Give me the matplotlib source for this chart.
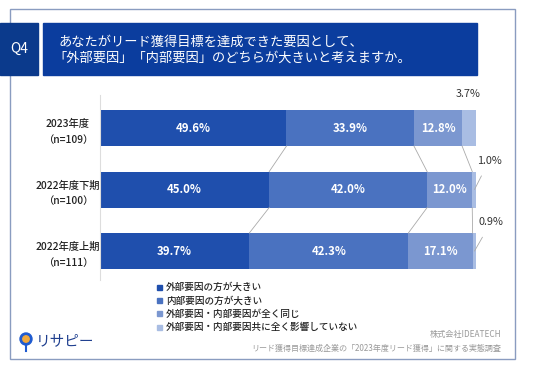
import matplotlib.pyplot as plt
from matplotlib.patches import Rectangle, Circle
import numpy as np

plt.rcParams['font.family'] = ['Noto Sans CJK JP', 'DejaVu Sans']

# データ
categories = ['2023年度\n（n=109）', '2022年度下期\n（n=100）', '2022年度上期\n（n=111）']
series_names = ['外部要因の方が大きい', '内部要因の方が大きい',
                '外部要因・内部要因が全く同じ', '外部要因・内部要因共に全く影響していない']
values = [
    [49.6, 45.0, 39.7],
    [33.9, 42.0, 42.3],
    [12.8, 12.0, 17.1],
    [3.7, 1.0, 0.9],
]
colors = ['#1f4fad', '#4a72c0', '#7b97d0', '#a9bde3']

W, H = 536, 371
fig = plt.figure(figsize=(W / 100, H / 100), dpi=100)

# 枠・タイトル部分
bg = fig.add_axes([0, 0, 1, 1])
bg.set_xlim(0, W)
bg.set_ylim(H, 0)
bg.axis('off')
bg.add_patch(Rectangle((10, 9), 505, 350, fill=False, edgecolor='#8a9cc0', lw=1))
bg.add_patch(Rectangle((0, 23), 38, 52, color='#0b3a8c'))
bg.add_patch(Rectangle((43, 23), 434, 52, color='#0b3d9e'))
bg.text(19, 49, 'Q4', color='white', fontsize=10, ha='center', va='center')
bg.text(58, 42, 'あなたがリード獲得目標を達成できた要因として、', color='white',
        fontsize=9.5, va='center')
bg.text(53, 58, '「外部要因」「内部要因」のどちらが大きいと考えますか。', color='white',
        fontsize=9.5, va='center')

# フッター
bg.text(501, 335, '株式会社IDEATECH', color='#999999', fontsize=5.9, ha='right', va='center')
bg.text(501, 348, 'リード獲得目標達成企業の「2023年度リード獲得」に関する実態調査',
        color='#999999', fontsize=5.8, ha='right', va='center')
bg.add_patch(Circle((26, 339), 6, color='#1f5bd0'))
bg.add_patch(Circle((26, 339), 3.2, color='#f2a93b'))
bg.plot([26, 26], [345, 351], color='#1f5bd0', lw=1.5)
bg.text(36, 341, 'リサピー', color='#1f3f8f', fontsize=10.5, va='center')

# 凡例
for k, name in enumerate(series_names):
    y = 287 + k * 13.4
    bg.add_patch(Rectangle((157, y - 2.5), 5, 5, color=colors[k]))
    bg.text(166, y, name, fontsize=6.9, va='center', color='#222222', fontweight='medium')

# 棒グラフ
ax = fig.add_axes([100 / W, 1 - 280 / H, 376 / W, 185 / H])
pos = np.arange(len(categories))
bh = 0.585
left = np.zeros(len(categories))
for k, vals in enumerate(values):
    ax.barh(pos, vals, left=left, height=bh, color=colors[k])
    for i, v in enumerate(vals):
        if v >= 5:
            ax.text(left[i] + v / 2, pos[i], f'{v:.1f}%', color='white', fontsize=8.2,
                    ha='center', va='center', fontweight='bold')
    left = left + np.array(vals)

# 区切りの接続線
cum = np.cumsum(np.array(values), axis=0)
for k in range(len(values) - 1):
    for i in range(len(categories) - 1):
        ax.plot([cum[k][i], cum[k][i + 1]], [pos[i] + bh / 2, pos[i + 1] - bh / 2],
                color='#aaaaaa', lw=0.6)

# 小さい値のラベル
small = values[3]
ax.text(97.8, -0.47, f'{small[0]:.1f}%', fontsize=7.8, ha='center', va='bottom', color='#333333')
ax.annotate(f'{small[1]:.1f}%', xy=(99.6, 1.0), xytext=(103.5, 0.53), fontsize=7.8,
            ha='center', va='center', color='#333333', annotation_clip=False,
            arrowprops=dict(arrowstyle='-', color='#aaaaaa', lw=0.6, shrinkB=0, shrinkA=6))
ax.annotate(f'{small[2]:.1f}%', xy=(99.6, 2.0), xytext=(104.0, 1.53), fontsize=7.8,
            ha='center', va='center', color='#333333', annotation_clip=False,
            arrowprops=dict(arrowstyle='-', color='#aaaaaa', lw=0.6, shrinkB=0, shrinkA=6))

ax.set_xlim(0, 100)
ax.set_ylim(2.47, -0.537)
ax.set_yticks(pos)
ax.set_yticklabels(categories, fontsize=7.4, ha='center', linespacing=1.7,
                   fontweight='medium', color='#222222')
ax.tick_params(axis='y', length=0, pad=23)
ax.set_xticks([])
for s in ['top', 'right', 'bottom']:
    ax.spines[s].set_visible(False)
ax.spines['left'].set_color('#dddddd')
ax.patch.set_alpha(0)

fig.savefig('out.png', dpi=100)
